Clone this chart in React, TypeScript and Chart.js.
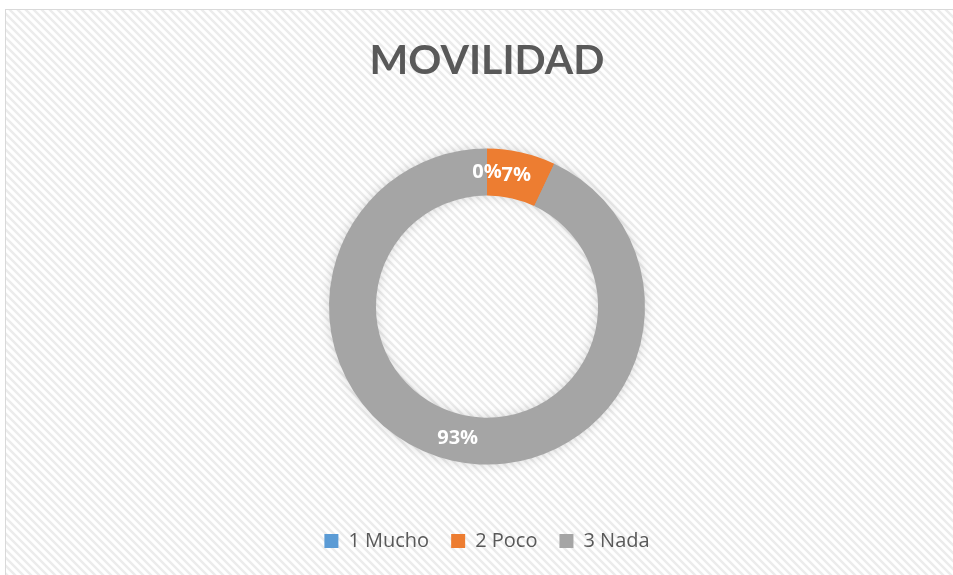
import React, { useEffect, useRef } from "react";
import { Chart, registerables } from "chart.js";

Chart.register(...registerables);

const chartTitle = "MOVILIDAD";
const categories = ["1 Mucho", "2 Poco", "3 Nada"];
const values = [0, 7, 93];
const percentLabels = ["0%", "7%", "93%"];
const colors = ["#5B9BD5", "#ED7D31", "#A5A5A5"];

const bgPlugin = {
  id: "bgPattern",
  beforeDraw(chart: any) {
    const { ctx, width, height } = chart;
    ctx.save();
    ctx.fillStyle = "#ffffff";
    ctx.fillRect(0, 0, width, height);
    const p = document.createElement("canvas");
    p.width = 8;
    p.height = 8;
    const pc = p.getContext("2d")!;
    pc.fillStyle = "#ffffff";
    pc.fillRect(0, 0, 8, 8);
    pc.strokeStyle = "#ececec";
    pc.lineWidth = 2.5;
    pc.beginPath();
    pc.moveTo(-2, -2);
    pc.lineTo(10, 10);
    pc.moveTo(-2, 6);
    pc.lineTo(2, 10);
    pc.moveTo(6, -2);
    pc.lineTo(10, 2);
    pc.stroke();
    const pat = ctx.createPattern(p, "repeat");
    if (pat) ctx.fillStyle = pat;
    ctx.fillRect(6, 10, width, height);
    ctx.strokeStyle = "#d9d9d9";
    ctx.lineWidth = 1;
    ctx.strokeRect(5.5, 9.5, width, height);
    ctx.restore();
  },
};

const shadowPlugin = {
  id: "ringShadow",
  beforeDatasetsDraw(chart: any) {
    const meta = chart.getDatasetMeta(0);
    const arc = meta.data[0];
    if (!arc) return;
    const { x, y, outerRadius, innerRadius } = arc.getProps(["x", "y", "outerRadius", "innerRadius"], true);
    const ctx = chart.ctx;
    ctx.save();
    ctx.shadowColor = "rgba(0,0,0,0.18)";
    ctx.shadowBlur = 12;
    ctx.fillStyle = "#A5A5A5";
    ctx.beginPath();
    ctx.arc(x, y, outerRadius - 1, 0, Math.PI * 2);
    ctx.arc(x, y, innerRadius + 1, 0, Math.PI * 2, true);
    ctx.fill();
    ctx.restore();
  },
};

const labelPlugin = {
  id: "sliceLabels",
  afterDatasetsDraw(chart: any) {
    const ctx = chart.ctx;
    const meta = chart.getDatasetMeta(0);
    ctx.save();
    ctx.fillStyle = "#ffffff";
    ctx.font = "bold 20px 'Open Sans'";
    ctx.textAlign = "center";
    ctx.textBaseline = "middle";
    meta.data.forEach((el: any, i: number) => {
      const pos = el.tooltipPosition(true);
      ctx.fillText(percentLabels[i], pos.x, pos.y);
    });
    ctx.restore();
  },
};

export default function App() {
  const ref = useRef<HTMLCanvasElement | null>(null);
  useEffect(() => {
    if (!ref.current) return;
    const chart = new Chart(ref.current, {
      type: "doughnut",
      data: {
        labels: categories,
        datasets: [
          {
            data: values,
            backgroundColor: colors,
            borderWidth: 0,
            radius: 158,
          } as any,
        ],
      },
      options: {
        responsive: false,
        animation: false,
        devicePixelRatio: 1,
        cutout: "70.3%",
        layout: { padding: { left: 21, right: 0, top: 0, bottom: 14 } },
        plugins: {
          title: {
            display: true,
            text: chartTitle,
            color: "#595959",
            font: { family: "Lato", size: 41, weight: "bold" },
            padding: { top: 36, bottom: 19 },
          },
          legend: {
            position: "bottom",
            labels: {
              color: "#595959",
              font: { family: "'Open Sans'", size: 20 },
              boxWidth: 14,
              boxHeight: 14,
              padding: 22,
            },
          },
          tooltip: { enabled: false },
        },
      } as any,
      plugins: [bgPlugin, shadowPlugin, labelPlugin],
    });
    return () => chart.destroy();
  }, []);
  return (
    <div style={{ position: "absolute", left: 0, top: 0, width: 953, height: 575 }}>
      <canvas ref={ref} width={953} height={575} style={{ display: "block" }} />
    </div>
  );
}
